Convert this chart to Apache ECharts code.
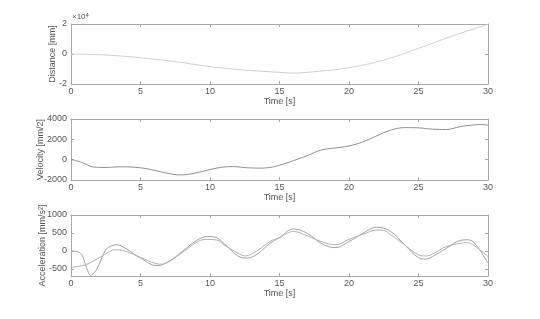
<!DOCTYPE html>
<html><head><meta charset="utf-8">
<script src="https://cdn.jsdelivr.net/npm/echarts@6/dist/echarts.min.js"></script>
<style>html,body{margin:0;padding:0;background:#fff}#c{width:540px;height:319px}</style>
</head><body><div id="c"></div>
<script>
// Distance (mm)
const distT = [0,2.5,5,7.5,10,12.5,15,16,17.5,20,22.5,25,27.5,30];
const distV = [0,-700,-2500,-5100,-8400,-10700,-12200,-12700,-11800,-9100,-4000,3800,12200,19800];
// Velocity
const velT = [0,0.5,1,1.6,2.5,3.5,5,6,7,7.8,9,10,11,11.7,12.5,13.5,14.3,15,16,17,18,19,20,21,22,23,24,25,26,27,28,29,29.6,30];
const velV = [0,-150,-400,-720,-770,-700,-800,-1050,-1350,-1500,-1300,-970,-720,-680,-780,-830,-770,-550,-100,400,950,1150,1350,1750,2350,2900,3150,3130,3000,2970,3250,3420,3450,3400];
// Acceleration series A and B
const accAT = [0,0.5,0.8,1.0,1.2,1.4,1.7,2.0,2.5,2.8,3.3,4,5,6.2,7,8,9,9.8,10.3,11,12,12.7,13.5,14.3,15,16,17,18,19,20,21,22,23,24,25,25.5,26,27,28,28.5,29,30];
const accAV = [0,-30,-120,-340,-550,-680,-600,-390,30,120,170,50,-200,-410,-300,-20,280,400,390,210,-140,-200,-60,210,370,610,490,210,90,260,490,660,540,170,-190,-230,-160,70,290,310,230,-340];
const accBT = [0,1,2,3,3.3,4,5,6,6.5,7,8,9,9.7,10.5,11,12,12.5,13.5,14.3,15,16,17,18,19,20,21,22,22.5,23,24,25,25.5,26,27,28,28.5,29,30];
const accBV = [-460,-390,-200,20,30,-20,-180,-340,-370,-310,-50,230,320,300,170,-60,-140,30,260,370,540,420,260,170,320,460,580,570,450,170,-110,-140,-90,120,210,230,150,-160];
const xTicks = [0,5,10,15,20,25,30];

const pair = (t, v) => t.map((x, i) => [x, v[i]]);
const FONT = 'Liberation Sans';
const TXT = '#555';
const AX = '#a8a8a8';

const grids = [
  {left: 71, width: 417, top: 24, height: 60},
  {left: 71, width: 417, top: 119, height: 61},
  {left: 71, width: 417, top: 215, height: 61}
];
const yNames = ['Distance [mm]', 'Velocity [mm/2]', 'Acceleration [mm/s\u00B2]'];
const yCfg = [
  {min: -20000, max: 20000, interval: 20000, fmt: v => String(v / 10000), gap: 14},
  {min: -2000, max: 4000, interval: 2000, fmt: v => String(v), gap: 26},
  {min: -700, max: 1000, splitNumber: 3, fmt: v => String(v), gap: 24}
];

const xAxis = [], yAxis = [];
grids.forEach((g, i) => {
  xAxis.push({
    type: 'value', gridIndex: i, min: 0, max: 30, interval: 5, position: 'bottom',
    name: 'Time [s]', nameLocation: 'middle', nameGap: 13, nameMoveOverlap: false,
    nameTextStyle: {color: TXT, fontFamily: FONT, fontSize: 9},
    axisLine: {show: true, onZero: false, lineStyle: {color: AX, width: 1}},
    axisTick: {show: true, inside: true, length: 3, lineStyle: {color: AX}},
    axisLabel: {color: TXT, fontFamily: FONT, fontSize: 9, margin: 3, formatter: v => String(v)},
    splitLine: {show: false}
  });
  xAxis.push({
    type: 'value', gridIndex: i, min: 0, max: 30, interval: 5, position: 'top',
    axisLine: {show: true, onZero: false, lineStyle: {color: AX, width: 1}},
    axisTick: {show: true, inside: true, length: 3, lineStyle: {color: AX}},
    axisLabel: {show: false}, splitLine: {show: false}
  });
  const c = yCfg[i];
  const base = {type: 'value', gridIndex: i, min: c.min, max: c.max};
  if (c.interval) base.interval = c.interval; else base.splitNumber = c.splitNumber;
  yAxis.push(Object.assign({}, base, {
    position: 'left', name: yNames[i], nameLocation: 'middle', nameGap: c.gap, nameRotate: 90,
    nameMoveOverlap: false,
    nameTextStyle: {color: TXT, fontFamily: FONT, fontSize: 9},
    axisLine: {show: true, onZero: false, lineStyle: {color: AX, width: 1}},
    axisTick: {show: true, inside: true, length: 3, lineStyle: {color: AX}},
    axisLabel: {color: TXT, fontFamily: FONT, fontSize: 9, margin: 4, formatter: c.fmt, showMinLabel: i !== 2},
    splitLine: {show: false}
  }));
  yAxis.push(Object.assign({}, base, {
    position: 'right',
    axisLine: {show: true, onZero: false, lineStyle: {color: AX, width: 1}},
    axisTick: {show: true, inside: true, length: 3, lineStyle: {color: AX}},
    axisLabel: {show: false}, splitLine: {show: false}
  }));
});

const lineS = (data, xi, yi, color) => ({
  type: 'line', xAxisIndex: xi, yAxisIndex: yi, data, smooth: 0.4, symbol: 'none',
  lineStyle: {color, width: 1}, silent: true, animation: false
});

const chart = echarts.init(document.getElementById('c'), null, {renderer: 'canvas'});
chart.setOption({
  animation: false,
  grid: grids,
  xAxis, yAxis,
  graphic: [{
    type: 'text', left: 72, top: 12,
    style: {
      text: '{a|\u00D710}{b|4}', fill: TXT,
      rich: {a: {fontSize: 8, fontFamily: FONT, fill: TXT}, b: {fontSize: 6, fontFamily: FONT, fill: TXT, verticalAlign: 'top', padding: [0,0,4,0]}}
    }
  }],
  series: [
    lineS(pair(distT, distV), 0, 0, '#d6cfbf'),
    lineS(pair(velT, velV), 2, 2, '#8e8e8e'),
    lineS(pair(accAT, accAV), 4, 4, '#a0a0a0'),
    lineS(pair(accBT, accBV), 4, 4, '#b0b0b0')
  ]
});
</script></body></html>
